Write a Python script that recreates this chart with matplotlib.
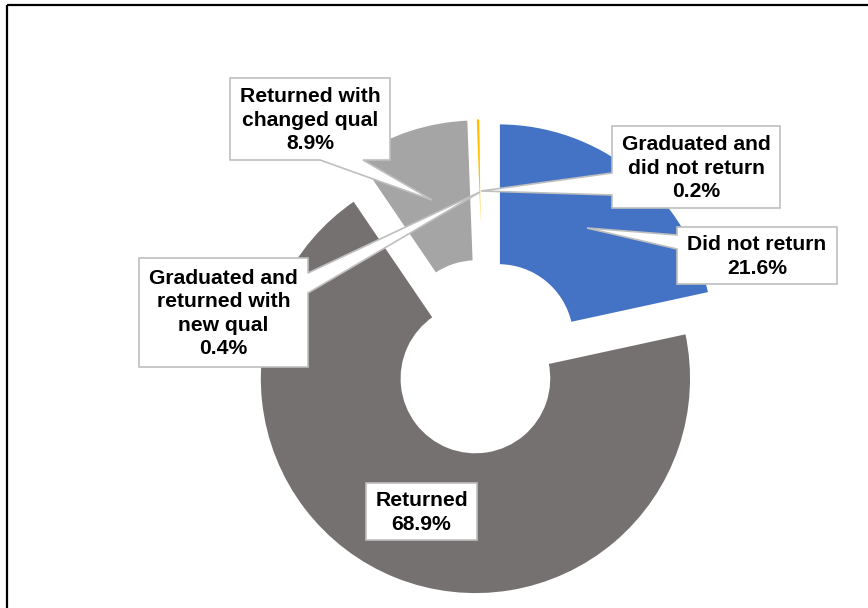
import matplotlib
matplotlib.use("Agg")
import matplotlib.pyplot as plt
from matplotlib.patches import Polygon, Rectangle

# Student outcome shares (%), clockwise from 12 o'clock
categories = [
    "Did not return",
    "Returned",
    "Returned with\nchanged qual",
    "Graduated and\nreturned with\nnew qual",
    "Graduated and\ndid not return",
]
values = [21.6, 68.9, 8.9, 0.4, 0.2]
colors = ["#4472C4", "#767171", "#A5A5A5", "#FFC000", "#5B9BD5"]

W, H = 868, 608
CX, CY, R = 484, 357, 216          # doughnut centre / radius in pixels

plt.rcParams["font.family"] = ["Liberation Sans", "DejaVu Sans"]

fig = plt.figure(figsize=(W / 100, H / 100), dpi=100)
fig.patch.set_facecolor("white")

ax = fig.add_axes([0, 0, 1, 1])
ax.pie(values, startangle=90, counterclock=False, radius=1.0,
       explode=[0.107] * len(values), colors=colors,
       wedgeprops=dict(width=0.66, edgecolor="white", linewidth=2.0))
ax.set_xlim(-CX / R, (W - CX) / R)
ax.set_ylim(-(H - CY) / R, CY / R)
ax.set_aspect("auto")
ax.axis("off")

# overlay in image pixel coordinates for callouts and frame
ov = fig.add_axes([0, 0, 1, 1])
ov.set_xlim(0, W)
ov.set_ylim(H, 0)
ov.axis("off")
ov.patch.set_alpha(0)


def callout(box, tip=None, side=None, base=None):
    x0, y0, x1, y1 = box
    tl, tr, br, bl = (x0, y0), (x1, y0), (x1, y1), (x0, y1)
    if tip is None:
        pts = [tl, tr, br, bl]
    elif side == "left":
        pts = [tl, tr, br, bl, (x0, base[1]), tip, (x0, base[0])]
    elif side == "right":
        pts = [tl, tr, (x1, base[0]), tip, (x1, base[1]), br, bl]
    elif side == "bottom":
        pts = [tl, tr, br, (base[1], y1), tip, (base[0], y1), bl]
    else:
        pts = [tl, (base[0], y0), tip, (base[1], y0), tr, br, bl]
    ov.add_patch(Polygon(pts, closed=True, facecolor="white",
                         edgecolor="#BFBFBF", linewidth=1.2, joinstyle="miter"))


# box (x0, y0, x1, y1), pointer tip, side, base span
layouts = [
    dict(box=(677, 227, 837, 284), tip=(587, 228), side="left", base=(235, 249)),
    dict(box=(366, 483, 477, 540)),
    dict(box=(230, 78, 390, 160), tip=(432, 200), side="bottom", base=(320, 363)),
    dict(box=(139, 258, 308, 367), tip=(480, 192), side="right", base=(273, 293)),
    dict(box=(612, 126, 780, 208), tip=(481, 191), side="left", base=(173, 195)),
]

for cat, val, lay in zip(categories, values, layouts):
    callout(lay["box"], lay.get("tip"), lay.get("side"), lay.get("base"))
    x0, y0, x1, y1 = lay["box"]
    ov.text((x0 + x1) / 2, (y0 + y1) / 2 + 1, f"{cat}\n{val:.1f}%",
            ha="center", va="center", multialignment="center",
            fontsize=15.2, fontweight="bold", color="black", linespacing=1.28)

# chart frame
ov.add_patch(Rectangle((7, 5), 1000, 800, fill=False, edgecolor="black",
                       linewidth=1.6, clip_on=False))

fig.savefig("out.png", dpi=100, facecolor="white")
